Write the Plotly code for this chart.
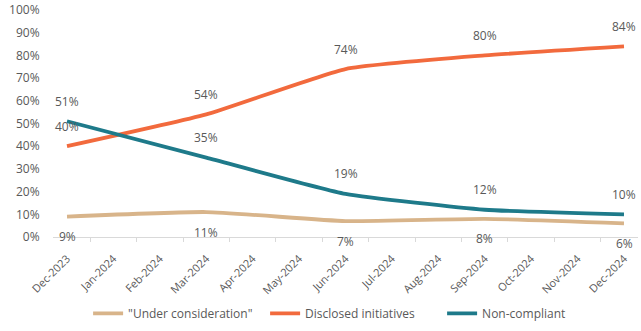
import plotly.graph_objects as go

months = ["Dec-2023", "Jan-2024", "Feb-2024", "Mar-2024", "Apr-2024", "May-2024", "Jun-2024",
          "Jul-2024", "Aug-2024", "Sep-2024", "Oct-2024", "Nov-2024", "Dec-2024"]
under_consideration = [0.09, None, None, 0.11, None, None, 0.07, None, None, 0.08, None, None, 0.06]
disclosed = [0.40, None, None, 0.54, None, None, 0.74, None, None, 0.80, None, None, 0.84]
non_compliant = [0.51, None, None, 0.35, None, None, 0.19, None, None, 0.12, None, None, 0.10]

series = [
    ("\"Under consideration\"", under_consideration, "#D8B48A", -20),
    ("Disclosed initiatives", disclosed, "#F26A3D", 20),
    ("Non-compliant", non_compliant, "#1E7A8A", 20),
]

FONT = "Open Sans"
TXT = "#595959"

fig = go.Figure()
for name, vals, color, shift in series:
    fig.add_trace(go.Scatter(
        x=months, y=vals, name=name, mode="lines",
        connectgaps=True,
        line=dict(color=color, width=3.8, shape="spline", smoothing=0.45),
    ))
    for m, v in zip(months, vals):
        if v is None:
            continue
        fig.add_annotation(x=m, y=v, text=f"{round(v*100)}%", showarrow=False,
                           yshift=shift, xanchor="center", yanchor="middle",
                           font=dict(family=FONT, size=12, color=TXT))

fig.update_layout(
    width=641, height=331,
    margin=dict(l=53, r=3, t=10, b=94),
    paper_bgcolor="white", plot_bgcolor="white",
    font=dict(family=FONT, size=12, color=TXT),
    showlegend=True,
    legend=dict(orientation="h", x=0.06, xanchor="left", y=-0.40, yanchor="bottom",
                font=dict(family=FONT, size=12, color=TXT), itemwidth=30,
                entrywidth=132, entrywidthmode="pixels"),
    xaxis=dict(type="category", categoryorder="array", categoryarray=months,
               tickangle=-45, tickson="boundaries", ticks="outside", ticklen=4,
               tickcolor="#D9D9D9", showline=True, linecolor="#D9D9D9", linewidth=1,
               showgrid=False, zeroline=False, automargin=False, ticklabelstandoff=10,
               tickfont=dict(family=FONT, size=11, color=TXT)),
    yaxis=dict(range=[0, 1.0], dtick=0.1, tickformat=".0%", showgrid=False, zeroline=False,
               showline=False, ticks="outside", ticklen=10, tickcolor="rgba(0,0,0,0)",
               automargin=False,
               tickfont=dict(family=FONT, size=12, color=TXT)),
)

fig.write_html("out.html")
